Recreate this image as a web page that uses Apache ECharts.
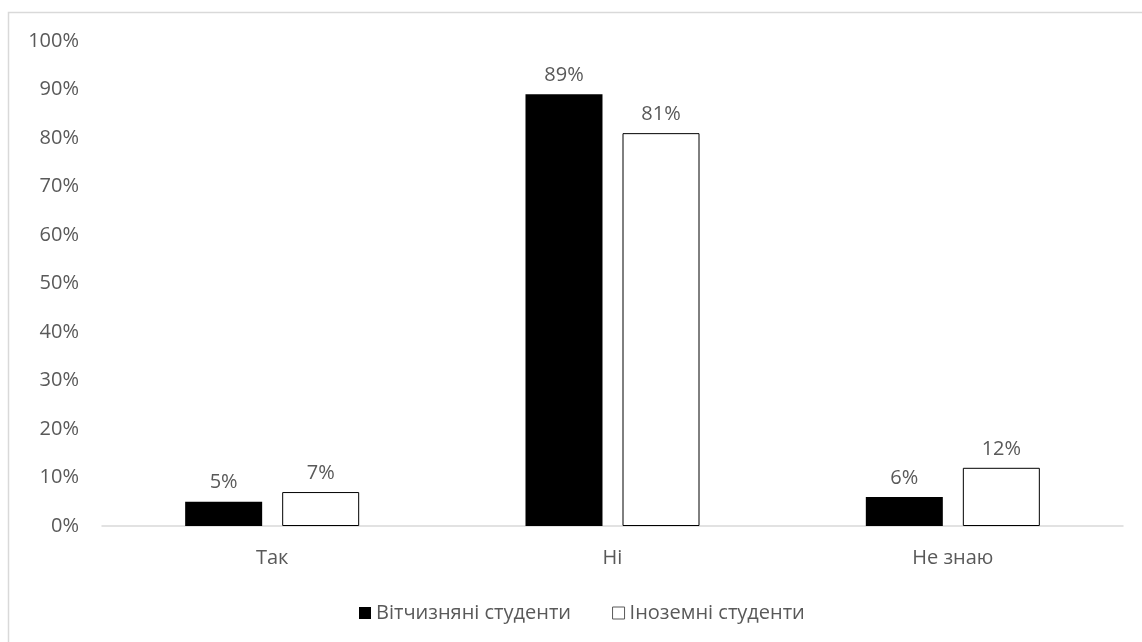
<!DOCTYPE html>
<html>
<head>
<meta charset="utf-8">
<script src="https://cdn.jsdelivr.net/npm/echarts@6/dist/echarts.min.js"></script>
<style>
    html, body { margin: 0; padding: 0; background: #fff; }
    #chart { width: 1142px; height: 642px; }
</style>
</head>
<body>
<div id="chart"></div>
<script>
const categories = ['Так', 'Ні', 'Не знаю'];
const seriesNames = ['Вітчизняні студенти', 'Іноземні студенти'];
const domesticValues = [5, 89, 6];
const foreignValues = [7, 81, 12];

const chart = echarts.init(document.getElementById('chart'));
const textColor = '#595959';
const font = '"Open Sans", sans-serif';

const option = {
    animation: false,
    backgroundColor: '#fff',
    graphic: [{
        type: 'rect',
        shape: { x: 8.5, y: 12.5, width: 1200, height: 700 },
        style: { fill: 'none', stroke: '#d9d9d9', lineWidth: 1.5 },
        silent: true
    }],
    grid: {
        left: 102,
        right: 19,
        top: 41,
        bottom: 116
    },
    legend: {
        left: 354,
        top: 598,
        itemWidth: 12,
        itemHeight: 12,
        itemGap: 41,
        icon: 'rect',
        textStyle: { color: textColor, fontSize: 20, fontFamily: font },
        data: [
            { name: seriesNames[0] },
            { name: seriesNames[1], itemStyle: { color: '#fff', borderColor: '#595959', borderWidth: 1 } }
        ]
    },
    xAxis: {
        type: 'category',
        data: categories,
        axisLine: { lineStyle: { color: '#d9d9d9', width: 1.5 } },
        axisTick: { show: false },
        axisLabel: { color: textColor, fontSize: 20, fontFamily: font, margin: 22 }
    },
    yAxis: {
        type: 'value',
        min: 0,
        max: 100,
        interval: 10,
        axisLine: { show: false },
        axisTick: { show: false },
        splitLine: { show: false },
        axisLabel: {
            color: textColor, fontSize: 20, fontFamily: font, margin: 23,
            formatter: '{value}%'
        }
    },
    series: [
        {
            name: seriesNames[0],
            type: 'bar',
            barWidth: 77,
            barGap: '26%',
            data: domesticValues,
            itemStyle: { color: '#000' },
            label: {
                show: true, position: 'top', distance: 9,
                formatter: '{c}%', color: textColor, fontSize: 20, fontFamily: font
            }
        },
        {
            name: seriesNames[1],
            type: 'bar',
            barWidth: 77,
            barGap: '26%',
            data: foreignValues,
            itemStyle: { color: '#fff', borderColor: '#000', borderWidth: 1 },
            label: {
                show: true, position: 'top', distance: 9,
                formatter: '{c}%', color: textColor, fontSize: 20, fontFamily: font
            }
        }
    ]
};

chart.setOption(option);
</script>
</body>
</html>
